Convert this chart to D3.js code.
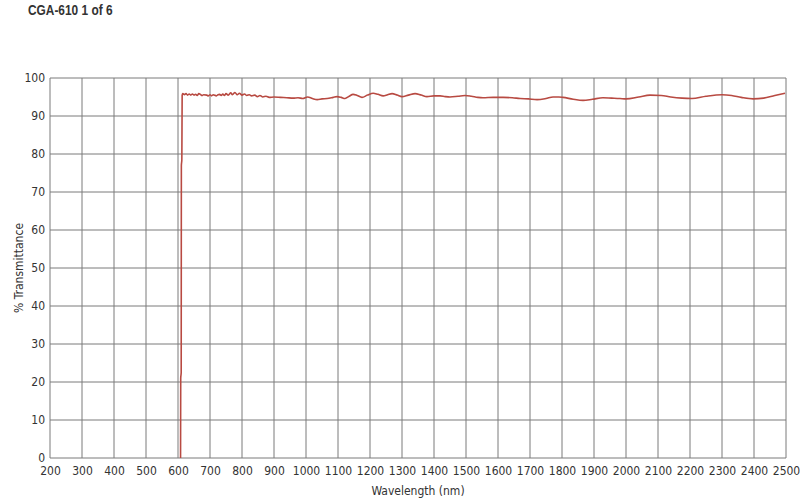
<!DOCTYPE html>
<html><head><meta charset="utf-8">
<script src="https://cdn.jsdelivr.net/npm/d3@7"></script>
<style>
body{margin:0;background:#fff;}
text{font-family:"DejaVu Sans Condensed","Liberation Sans",sans-serif;fill:#333;}
</style></head><body>
<svg id="c" width="800" height="499"></svg>
<script>
const title = "CGA-610 1 of 6";
const xLabel = "Wavelength (nm)";
const yLabel = "% Transmittance";
const xTicks = [200,300,400,500,600,700,800,900,1000,1100,1200,1300,1400,1500,1600,1700,1800,1900,2000,2100,2200,2300,2400,2500];
const yTicks = [0,10,20,30,40,50,60,70,80,90,100];
const wavelength = [608,608.5,610,610.5,612,613,615,620,625,630,635,640,645,650,655,660,665,670,675,680,690,695,700,705,710,720,725,730,735,740,745,750,757,765,770,778,785,792,800,808,815,823,830,840,848,856,865,875,885,900,920,940,960,975,990,1005,1020,1035,1050,1066,1085,1097,1110,1122,1135,1147,1160,1175,1192,1210,1225,1241,1255,1269,1285,1300,1320,1341,1360,1378,1400,1419,1435,1450,1475,1497,1517,1537,1553,1585,1616,1645,1669,1695,1722,1750,1772,1790,1803,1835,1866,1895,1928,1955,1981,2000,2040,2075,2110,2140,2175,2206,2250,2300,2330,2360,2397,2430,2465,2497];
const transmittance = [0,21,22.5,77,78.5,95.5,95.9,95.6,95.9,95.5,95.8,95.5,95.8,95.5,95.7,95.4,95.9,95.7,95.4,95.6,95.5,95.3,95.6,95.3,95.6,95.3,95.6,95.7,95.4,95.8,95.4,95.9,95.5,96.1,95.6,96.2,95.6,96.0,95.5,95.8,95.4,95.6,95.3,95.5,95.1,95.4,95.0,95.2,94.9,95.0,94.9,94.8,94.7,94.8,94.6,95.0,94.6,94.3,94.5,94.6,94.9,95.1,94.9,94.6,95.2,95.7,95.4,94.9,95.5,96.0,95.7,95.3,95.6,95.9,95.5,95.1,95.5,95.9,95.5,95.1,95.3,95.3,95.1,95.0,95.2,95.4,95.2,94.9,94.8,94.9,94.9,94.8,94.6,94.5,94.3,94.6,95.0,95.0,94.9,94.4,94.1,94.4,94.8,94.7,94.6,94.5,95.0,95.5,95.4,95.0,94.7,94.6,95.2,95.6,95.4,94.9,94.5,94.7,95.4,96.0];

const svg = d3.select("#c");
const L=50, R=786, T=78, B=458;
const x = d3.scaleLinear().domain([200,2500]).range([L,R]);
const y = d3.scaleLinear().domain([0,100]).range([B,T]);

// grid
svg.append("g").selectAll("line").data(xTicks).join("line")
  .attr("x1",d=>x(d)).attr("x2",d=>x(d)).attr("y1",T).attr("y2",B)
  .attr("stroke","#7a7a7a").attr("stroke-width",1);
svg.append("g").selectAll("line").data(yTicks).join("line")
  .attr("y1",d=>y(d)).attr("y2",d=>y(d)).attr("x1",L).attr("x2",R)
  .attr("stroke","#7a7a7a").attr("stroke-width",1);

// axes labels
const xa = svg.append("g").attr("transform",`translate(0,${B})`)
  .call(d3.axisBottom(x).tickValues(xTicks).tickSize(0).tickPadding(8).tickFormat(d3.format("d")));
xa.select(".domain").remove();
xa.selectAll("text").attr("font-size",12).style("fill","#333")
  .style("font-family",'"DejaVu Sans Condensed",sans-serif');
const ya = svg.append("g").attr("transform",`translate(${L},0)`)
  .call(d3.axisLeft(y).tickValues(yTicks).tickSize(0).tickPadding(5).tickFormat(d3.format("d")));
ya.select(".domain").remove();
ya.selectAll("text").attr("font-size",12).style("fill","#333")
  .style("font-family",'"DejaVu Sans Condensed",sans-serif');

// data line
const data = wavelength.map((w,i)=>[w,transmittance[i]]);
svg.append("path").datum(data)
  .attr("fill","none").attr("stroke","#b84a42").attr("stroke-width",1.6)
  .attr("stroke-linejoin","round")
  .attr("d",d3.line().x(d=>x(d[0])).y(d=>y(d[1])).curve(d3.curveMonotoneX));

svg.append("text").attr("transform","translate(28,15) scale(0.82,1)")
  .style("font-family",'"Liberation Sans",Arial,sans-serif')
  .attr("font-size",14.5).attr("font-weight","bold").text(title);
svg.append("text").attr("x",(L+R)/2).attr("y",495).attr("text-anchor","middle").attr("font-size",12).text(xLabel);
svg.append("text").attr("transform",`translate(23,${(T+B)/2}) rotate(-90)`).attr("text-anchor","middle").attr("font-size",12).text(yLabel);
</script></body></html>
